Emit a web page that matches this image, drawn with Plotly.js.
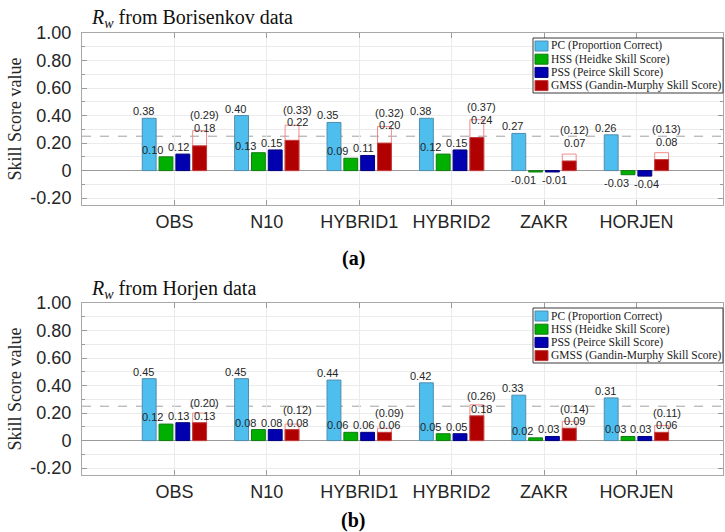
<!DOCTYPE html>
<html><head><meta charset="utf-8">
<script src="https://cdn.plot.ly/plotly-3.0.1.min.js"></script>
<style>html,body{margin:0;padding:0;background:#fff;} #chart{width:725px;height:532px;}</style>
</head><body><div id="chart"></div>
<script>
const categories = ['OBS', 'N10', 'HYBRID1', 'HYBRID2', 'ZAKR', 'HORJEN'];
const seriesNames = ['PC (Proportion Correct)', 'HSS (Heidke Skill Score)', 'PSS (Peirce Skill Score)', 'GMSS (Gandin-Murphy Skill Score)'];

// Panel (a): R_w from Borisenkov data
const borPC = [0.38, 0.40, 0.35, 0.38, 0.27, 0.26];
const borHSS = [0.10, 0.13, 0.09, 0.12, -0.01, -0.03];
const borPSS = [0.12, 0.15, 0.11, 0.15, -0.01, -0.04];
const borGMSS = [0.18, 0.22, 0.20, 0.24, 0.07, 0.08];
const borGMSSmax = [0.29, 0.33, 0.32, 0.37, 0.12, 0.13];

// Panel (b): R_w from Horjen data
const horPC = [0.45, 0.45, 0.44, 0.42, 0.33, 0.31];
const horHSS = [0.12, 0.08, 0.06, 0.05, 0.02, 0.03];
const horPSS = [0.13, 0.08, 0.06, 0.05, 0.03, 0.03];
const horGMSS = [0.13, 0.08, 0.06, 0.18, 0.09, 0.06];
const horGMSSmax = [0.20, 0.12, 0.09, 0.26, 0.14, 0.11];

const refLine = 0.25;
const yTickVals = [-0.2, 0, 0.2, 0.4, 0.6, 0.8, 1.0];
const yTickText = ['-0.20', '0', '0.20', '0.40', '0.60', '0.80', '1.00'];
const panelTitles = ['<i>R</i><sub><i>w</i></sub> from Borisenkov data', '<i>R</i><sub><i>w</i></sub> from Horjen data'];
const panelLabels = ['(a)', '(b)'];

// styling
const fills = ['#4DBEEE', '#00B000', '#0000B0', '#B00000'];
const edges = ['#4f8cad', '#137a13', '#00007a', '#c23a3a'];
const barW = 0.15;
const centers = [-0.273, -0.091, 0.091, 0.273];
const labelShiftPx = [-6, -13, -4, 5];
const labelShiftNegPx = [-6, -12, 2, 5];
const sansFont = 'Liberation Sans, Arial, sans-serif';
const serifFont = 'Liberation Serif, Times New Roman, serif';

const W = 725, H = 532, ML = 82, MR = 2;
const PW = W - ML - MR;
const px2x = p => (p - ML) / PW;
const px2y = p => 1 - p / H;

const panels = [
  {series: [borPC, borHSS, borPSS, borGMSS], maxs: borGMSSmax, xa: 'x', ya: 'y', gmssLift: 10},
  {series: [horPC, horHSS, horPSS, horGMSS], maxs: horGMSSmax, xa: 'x2', ya: 'y2', gmssLift: -1}
];

const traces = [];
const annotations = [];
panels.forEach((p, pi) => {
  traces.push({
    type: 'bar', x: categories, y: p.maxs, xaxis: p.xa, yaxis: p.ya,
    width: barW, offset: centers[3] - barW / 2,
    marker: {color: 'rgba(0,0,0,0)', line: {color: '#f08a8a', width: 1}},
    showlegend: false, hoverinfo: 'skip'
  });
  p.series.forEach((vals, si) => {
    traces.push({
      type: 'bar', name: seriesNames[si], x: categories, y: vals,
      xaxis: p.xa, yaxis: p.ya, showlegend: false,
      width: barW, offset: centers[si] - barW / 2,
      marker: {color: fills[si], line: {color: edges[si], width: 1}}
    });
    vals.forEach((v, ci) => {
      const pos = v >= 0;
      annotations.push({
        xref: p.xa, yref: p.ya, x: ci + centers[si], y: v,
        text: v.toFixed(2), showarrow: false,
        xanchor: 'center', yanchor: pos ? 'bottom' : 'top',
        xshift: pos ? labelShiftPx[si] : labelShiftNegPx[si],
        yshift: pos ? (si === 3 ? p.gmssLift : -1) : 0,
        font: {family: sansFont, size: 11, color: '#262626'}
      });
    });
  });
  p.maxs.forEach((m, ci) => {
    annotations.push({
      xref: p.xa, yref: p.ya, x: ci + centers[3], y: p.series[3][ci],
      text: '(' + m.toFixed(2) + ')', showarrow: false,
      xanchor: 'center', yanchor: 'bottom',
      xshift: labelShiftPx[3], yshift: p.gmssLift + 12.5,
      font: {family: sansFont, size: 11, color: '#262626'}
    });
  });
});

const plotPx = [[33, 205], [303, 475]];
const titleY = [19, 289];
const labelY = [258, 520];
const legendBox = [[533, 38, 723, 93], [533, 308, 723, 363]];

annotations.push(...panelTitles.map((t, i) => ({
  xref: 'paper', yref: 'paper', x: px2x(89), y: px2y(titleY[i]),
  xanchor: 'left', yanchor: 'middle', text: t, showarrow: false,
  font: {family: serifFont, size: 20, color: '#111'}
})));
annotations.push(...panelLabels.map((t, i) => ({
  xref: 'paper', yref: 'paper', x: px2x(353), y: px2y(labelY[i]),
  xanchor: 'center', yanchor: 'middle', text: '<b>' + t + '</b>', showarrow: false,
  font: {family: serifFont, size: 20, color: '#000'}
})));

// legend boxes (one per panel)
const shapes = [];
legendBox.forEach((b, i) => {
  shapes.push({type: 'rect', xref: 'paper', yref: 'paper', x0: px2x(b[0]), x1: px2x(b[2]), y0: px2y(b[1]), y1: px2y(b[3]),
    fillcolor: '#ffffff', line: {color: '#3a3a3a', width: 1}, layer: 'above'});
  seriesNames.forEach((name, si) => {
    const cy = b[1] + 8 + si * 13.2;
    shapes.push({type: 'rect', xref: 'paper', yref: 'paper', x0: px2x(b[0] + 2), x1: px2x(b[0] + 15), y0: px2y(cy - 5), y1: px2y(cy + 5),
      fillcolor: fills[si], line: {color: edges[si], width: 1}, layer: 'above'});
    annotations.push({xref: 'paper', yref: 'paper', x: px2x(b[0] + 16), y: px2y(cy), xanchor: 'left', yanchor: 'middle',
      text: name, showarrow: false, font: {family: serifFont, size: 11.5, color: '#222'}});
  });
});
shapes.push(
  {type: 'line', xref: 'x domain', yref: 'y', x0: 0, x1: 1, y0: refLine, y1: refLine, layer: 'below', line: {color: '#a0a0a0', width: 1, dash: 'dash'}},
  {type: 'line', xref: 'x2 domain', yref: 'y2', x0: 0, x1: 1, y0: refLine, y1: refLine, layer: 'below', line: {color: '#a0a0a0', width: 1, dash: 'dash'}}
);

function xAxis(anchor) {
  return {
    anchor: anchor, domain: [0, 1], type: 'category', range: [-1, 5.937],
    ticks: 'inside', ticklen: 5, tickcolor: '#9a9a9a',
    showline: true, linecolor: '#a8a8a8', linewidth: 1, mirror: 'ticks',
    showgrid: true, gridcolor: '#ebebeb', zeroline: false,
    tickfont: {family: sansFont, size: 18, color: '#262626'},
    ticklabelstandoff: 0
  };
}
function yAxis(anchor, i) {
  return {
    anchor: anchor, domain: [px2y(plotPx[i][1]), px2y(plotPx[i][0])],
    range: [-0.25, 1.0], tickmode: 'array', tickvals: yTickVals, ticktext: yTickText,
    ticks: 'inside', ticklen: 5, tickcolor: '#9a9a9a',
    minor: {dtick: 0.1, tick0: 0, ticks: 'inside', ticklen: 3, tickcolor: '#9a9a9a', showgrid: true, gridcolor: '#ebebeb'},
    showline: true, linecolor: '#a8a8a8', linewidth: 1, mirror: 'ticks',
    showgrid: true, gridcolor: '#ebebeb',
    zeroline: true, zerolinecolor: '#9a9a9a', zerolinewidth: 1,
    tickfont: {family: sansFont, size: 18, color: '#262626'},
    ticklabelstandoff: 6,
    title: {text: 'Skill Score value', font: {family: serifFont, size: 18, color: '#262626'}, standoff: 4}
  };
}

const layout = {
  width: W, height: H,
  margin: {l: ML, r: MR, t: 0, b: 0},
  paper_bgcolor: '#ffffff', plot_bgcolor: '#ffffff',
  barmode: 'overlay', showlegend: false,
  xaxis: xAxis('y'), yaxis: yAxis('x', 0),
  xaxis2: xAxis('y2'), yaxis2: yAxis('x2', 1),
  annotations: annotations,
  shapes: shapes
};

Plotly.newPlot('chart', traces, layout, {displayModeBar: false, staticPlot: true});
</script>
</body></html>
